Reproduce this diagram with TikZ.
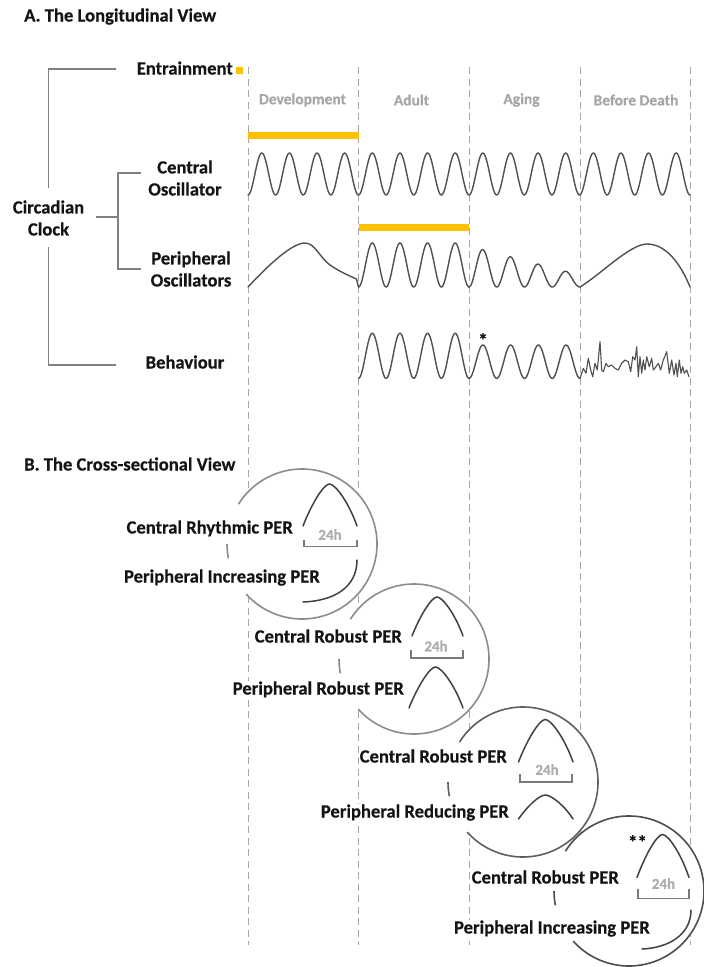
\documentclass[tikz,border=0pt]{standalone}
\usepackage{fontspec}
\setmainfont{Carlito}[BoldFeatures={FakeBold=0.4}]
\definecolor{gold}{HTML}{FFC000}
\definecolor{txt}{HTML}{141414}
\definecolor{cgray}{HTML}{7F7F7F}
\definecolor{dgray}{HTML}{A6A6A6}
\definecolor{pgray}{HTML}{A6A6A6}
\definecolor{wgray}{HTML}{505050}
\definecolor{igray}{HTML}{404040}
\definecolor{bgray}{HTML}{7A7A7A}
\definecolor{hgray}{HTML}{ADADAD}
\definecolor{r1}{HTML}{8C8C8C}
\definecolor{r2}{HTML}{8C8C8C}
\definecolor{r3}{HTML}{5F5F5F}
\definecolor{r4}{HTML}{4D4D4D}
\newcommand{\pkshape}[4]{%
  \draw[innerc] (#1,#2) .. controls +({0.15*#3},{-0.5*#4}) and +({-0.11*#3},0) .. ({#1+0.49*#3},{#2-#4})
     .. controls +({0.11*#3},0) and +({-0.15*#3},{-0.55*#4}) .. ({#1+#3},#2);}
\newcommand{\hbrack}[4]{%
  \draw[brk] (#1,{#3-#4}) -- (#1,#3) -- (#2,#3) -- (#2,{#3-#4});}
\begin{document}
\begin{tikzpicture}[x=1pt,y=1pt,yscale=-1,
  lbl/.style={font=\fontsize{18.6}{22}\selectfont\bfseries, text=txt, inner sep=1pt},
  one/.style={lbl, text height=13pt, text depth=4pt},
  bl/.style={one, fill=white, anchor=east},
  period/.style={font=\fontsize{15.5}{18}\selectfont\bfseries, text=pgray, inner sep=1pt},
  conn/.style={draw=cgray, line width=1.2pt},
  vdash/.style={draw=dgray, line width=0.9pt, dash pattern=on 7pt off 4.5pt},
  wave/.style={draw=wgray, line width=1.4pt, line join=round, line cap=round},
  ringline/.style={line width=1.6pt},
  innerc/.style={draw=igray, line width=1.5pt, line cap=round},
  brk/.style={draw=bgray, line width=1.3pt},
  hrs/.style={font=\fontsize{15}{18}\selectfont\bfseries, text=hgray, inner sep=0pt},
  star/.style={font=\fontsize{19}{19}\selectfont\bfseries, text=txt, inner sep=0pt},
]
\useasboundingbox (0,0) rectangle (704,967);
\fill[white] (0,0) rectangle (704,967);

% dashed period boundaries
\foreach \xx/\nm in {248/d0,358.5/d1,469/d2,580/d3,690/d4} {
  \coordinate (\nm t) at (\xx,67);
  \coordinate (\nm b) at (\xx,945);
  \draw[vdash] (\nm t) -- (\nm b);
}

% ---------- A ----------
\node[one, anchor=west] (titleA) at (23,17) {A. The Longitudinal View};
\node[one, anchor=east] (entr) at (234,70) {Entrainment};
\node[fill=gold, minimum size=7.5pt, inner sep=0pt] (esq) at (239.25,70.5) {};

\node[lbl, align=center] (clock) at (48.5,218) {Circadian\\Clock};
\node[lbl, align=center] (cosc) at (185,178) {Central\\Oscillator};
\node[lbl, align=center] (posc) at (191,269) {Peripheral\\Oscillators};
\node[one] (behav) at (185,364) {Behaviour};

\coordinate (bTopR) at (116,69);
\coordinate (bUp) at (48.5,188);
\coordinate (bLow) at (48.5,247);
\coordinate (bBotR) at (116,365);
\draw[conn] (bTopR) -| (bUp);
\draw[conn] (bLow) |- (bBotR);
\coordinate (mL) at (96,217);
\coordinate (mJ) at (118,217);
\coordinate (mT) at (141,173);
\coordinate (mB) at (141,269);
\draw[conn] (mL) -- (mJ);
\draw[conn] (mT) -| (mJ) |- (mB);

\node[period] (pdev) at (302.5,100) {Development};
\node[period] (padu) at (411.5,100) {Adult};
\node[period] (pagi) at (521.5,100) {Aging};
\node[period] (pbd) at (636,100) {Before Death};

\fill[gold] (248,132) rectangle (358.5,139);
\fill[gold] (358.5,223.5) rectangle (469,230.5);

% central oscillator
\draw[wave] plot[domain=248:690, samples=500] (\x, {174+21*cos((\x-248)*13.03167)});

% peripheral oscillators
\draw[wave] (248,287) .. controls (262,272) and (290,243) .. (305,243)
  .. controls (315,243) and (320,258) .. (330,265)
  .. controls (340,272) and (350,276) .. (356.5,279) -- (358.5,287);
\draw[wave] plot[domain=358.5:469, samples=200] (\x, {265+22*cos((\x-358.5)*13.03167)});
\draw[wave] plot[domain=469:580, samples=200] (\x, {287-(20.5-0.130631*(\x-469))*(1-cos((\x-469)*12.97297))});
\draw[wave] (580,287) .. controls (600,275) and (630,244) .. (647,244)
  .. controls (665,244) and (680,262) .. (690,287);

% behaviour
\draw[wave] plot[domain=358.5:469, samples=200] (\x, {355.8+22.5*cos((\x-358.5)*13.03167)});
\draw[wave] plot[domain=469:580, samples=200] (\x, {361.7+16.7*cos((\x-469)*12.97297)});
\draw[wave, line width=1.1pt] plot coordinates {(580,378.4) (583.3,368.3) (586,373.3) (588.3,358.3) (590.7,370) (592.7,376.7) (595,363.3) (597.3,370) (600,341.7) (601.7,370) (603.3,371.7) (606,363.3) (608.3,366.7) (611.7,365) (615,368.3) (618.3,370) (621.7,363.3) (625,360) (628.3,361.7) (630.7,371.7) (632.7,356.7) (635,360) (636.7,346.7) (638.3,376.7) (640,356.7) (641.7,373.3) (643.3,360) (645,370) (646.7,356.7) (649.3,366.7) (651.7,358.3) (653.3,370) (656,366.7) (658.3,363.3) (660.7,370) (663.3,360) (666.7,351.7) (669.3,373.3) (671.7,360) (674,375) (676,363.3) (677.3,376.7) (679.3,360) (681,373.3) (682.7,366.7) (684.3,373.3) (686.7,370) (689,376.7)};
\node[star] (ast1) at (483,340) {*};

% ---------- B ----------
\node[one, anchor=west] (titleB) at (23,466) {B. The Cross-sectional View};

\foreach \cx/\cy/\col/\nm in {302/544/r1/c1, 414/659/r2/c2, 523/782/r3/c3, 629/891/r4/c4} {
  \coordinate (\nm) at (\cx,\cy);
  \fill[white] (\nm) circle (75);
  \draw[ringline, draw=\col] (\nm) ++(-148:75) arc[start angle=-148, end angle=138, radius=75];
  \draw[ringline, draw=\col] (\nm) ++(-191:75) arc[start angle=-191, end angle=-180, radius=75];
}

\node[bl] (c1a) at (294,529) {Central Rhythmic PER};
\node[bl] (c1b) at (321,578) {Peripheral Increasing PER};
\node[bl] (c2a) at (403,638) {Central Robust PER};
\node[bl] (c2b) at (405,690) {Peripheral Robust PER};
\node[bl] (c3a) at (508,758) {Central Robust PER};
\node[bl] (c3b) at (510,813) {Peripheral Reducing PER};
\node[bl] (c4a) at (620,879) {Central Robust PER};
\node[bl] (c4b) at (651,929) {Peripheral Increasing PER};

% circle 1
\pkshape{303}{526}{54}{42}
\hbrack{304}{357}{546.7}{7}
\node[hrs] (h1) at (330,534.5) {24h};
\draw[innerc] (303,602) .. controls (333,601) and (357,588) .. (357,560);
% circle 2
\pkshape{412}{636}{51}{39}
\hbrack{411}{463}{658}{8}
\node[hrs] (h2) at (436,646) {24h};
\pkshape{409}{708}{54}{41}
% circle 3
\pkshape{518.5}{762}{54.5}{42.5}
\hbrack{520}{572}{782}{8}
\node[hrs] (h3) at (547,769.5) {24h};
\pkshape{518.5}{819}{54.5}{24}
% circle 4
\pkshape{637}{877.5}{52}{43}
\node[star] (ast2) at (637.5,842) {**};
\hbrack{638}{689}{898.3}{9}
\node[hrs] (h4) at (663.5,883.5) {24h};
\draw[innerc] (642,949) .. controls (668,948) and (691,935) .. (691,910);
\end{tikzpicture}
\end{document}
